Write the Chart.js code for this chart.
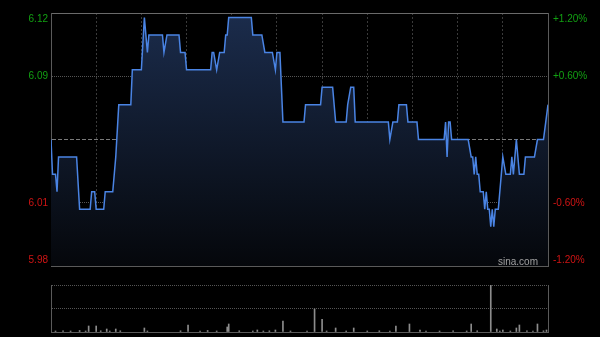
<!DOCTYPE html>
<html>
<head>
<meta charset="utf-8">
<script src="https://cdn.jsdelivr.net/npm/chart.js@4"></script>
<style>
  html, body { margin: 0; padding: 0; background: #000; }
  #wrap { position: relative; width: 600px; height: 337px; background: #000; overflow: hidden; }
  #priceChart { position: absolute; left: 0; top: 0; }
  #volChart { position: absolute; left: 0; top: 280px; }
</style>
</head>
<body>
<div id="wrap">
  <canvas id="priceChart" width="600" height="280"></canvas>
  <canvas id="volChart" width="600" height="57"></canvas>
</div>
<script>
// ============================================================
// 分时图数据
// ============================================================

// 昨收价与涨跌幅区间(%)
const prevClose = 6.05;
const rangePct = 1.2;
const totalMinutes = 330;

// 价格拐点：分钟序号 / 价格
const priceTimes = [
  0, 1, 3, 4, 5, 17, 19, 26, 27, 29, 30, 35, 36, 41, 43, 45, 53, 54, 60, 62,
  64, 65, 74, 75, 77, 85, 86, 89, 90, 106, 107, 108, 110, 112, 115, 116, 117, 118, 133, 134,
  140, 142, 147, 149, 150, 152, 154, 168, 169, 179, 180, 187, 189, 196, 197, 199, 201, 202, 224, 225,
  227, 230, 231, 236, 237, 243, 244, 261, 262, 263, 264, 265, 266, 277, 279, 280, 281, 282, 283, 284,
  285, 287, 288, 289, 290, 291, 292, 293, 294, 295, 297, 300, 302, 305, 306, 307, 309, 311, 314, 315,
  321, 323, 327, 330
];
const prices = [
  6.05, 6.03, 6.03, 6.02, 6.04, 6.04, 6.01, 6.01, 6.02, 6.02, 6.01, 6.01, 6.02, 6.02, 6.04, 6.07, 6.07, 6.09, 6.09, 6.12,
  6.10, 6.11, 6.11, 6.10, 6.11, 6.11, 6.10, 6.10, 6.09, 6.09, 6.10, 6.10, 6.09, 6.10, 6.10, 6.11, 6.11, 6.12, 6.12, 6.11,
  6.11, 6.10, 6.10, 6.09, 6.10, 6.10, 6.06, 6.06, 6.07, 6.07, 6.08, 6.08, 6.06, 6.06, 6.07, 6.08, 6.08, 6.06, 6.06, 6.05,
  6.06, 6.06, 6.07, 6.07, 6.06, 6.06, 6.05, 6.05, 6.06, 6.04, 6.06, 6.06, 6.05, 6.05, 6.04, 6.04, 6.03, 6.04, 6.03, 6.03,
  6.02, 6.02, 6.01, 6.02, 6.01, 6.01, 6.00, 6.01, 6.00, 6.01, 6.01, 6.04, 6.03, 6.03, 6.04, 6.03, 6.05, 6.03, 6.03, 6.04,
  6.04, 6.05, 6.05, 6.07
];

// 成交量：分钟序号 / 成交量(股)
const volTimes = [
  3, 8, 13, 19, 23, 25, 30, 33, 37, 39, 43, 46, 62, 64, 86, 91, 99, 104, 110, 117,
  118, 125, 134, 137, 141, 145, 149, 154, 159, 170, 175, 180, 183, 189, 196, 201, 210, 218, 225, 229,
  238, 245, 249, 258, 267, 276, 279, 283, 292, 296, 298, 300, 305, 309, 311, 316, 320, 323, 327, 329
];
const volumes = [
  10000, 12000, 10000, 15000, 10000, 60000, 60000, 12000, 30000, 10000, 30000, 12000, 40000, 10000, 12000, 70000, 10000, 15000, 10000, 50000,
  80000, 12000, 10000, 20000, 10000, 12000, 20000, 110000, 10000, 10000, 230000, 127000, 10000, 40000, 10000, 40000, 10000, 12000, 10000, 60000,
  80000, 20000, 10000, 10000, 12000, 10000, 80000, 12000, 470000, 30000, 10000, 20000, 10000, 40000, 70000, 12000, 10000, 80000, 12000, 20000
];
const volMax = 470000;

// 坐标轴标签
const leftLabels = ['5.98', '6.01', '', '6.09', '6.12'];
const rightLabels = ['-1.20%', '-0.60%', '', '+0.60%', '+1.20%'];
const halfHourTicks = [0, 30, 60, 90, 120, 150, 180, 210, 240, 270, 300, 330];

// 标签位置（首尾标签向内收）
const labelPct = [-1.143, -0.6, 0, 0.6, 1.143];

const FONT = "'Liberation Sans', Arial, sans-serif";
const UP = '#12a012';
const DOWN = '#d01414';

// ============================================================
// 价格图
// ============================================================

const watermark = {
  id: 'watermark',
  afterDraw(chart) {
    const ctx = chart.ctx;
    ctx.save();
    ctx.font = '10px ' + FONT;
    ctx.fillStyle = '#a0a0a0';
    ctx.textAlign = 'right';
    ctx.textBaseline = 'middle';
    ctx.fillText('sina.com', chart.chartArea.right - 10, chart.chartArea.bottom - 4);
    ctx.restore();
  }
};

const pricePoints = priceTimes.map((t, i) => ({ x: t, y: prices[i] }));

new Chart(document.getElementById('priceChart'), {
  type: 'line',
  data: {
    datasets: [{
      data: pricePoints,
      borderColor: '#4a84e4',
      borderWidth: 1.5,
      pointRadius: 0,
      tension: 0,
      fill: 'start',
      backgroundColor: (ctx) => {
        const area = ctx.chart.chartArea;
        if (!area) return 'rgba(0,0,0,0)';
        const g = ctx.chart.ctx.createLinearGradient(0, area.top, 0, area.bottom);
        g.addColorStop(0, '#1b2c4c');
        g.addColorStop(1, '#05070b');
        return g;
      },
    }],
  },
  options: {
    responsive: false,
    animation: false,
    layout: { padding: { top: 13, left: 0, right: 0, bottom: 0 } },
    plugins: { legend: { display: false }, tooltip: { enabled: false } },
    scales: {
      x: {
        type: 'linear',
        min: 0,
        max: totalMinutes,
        z: 1,
        afterBuildTicks: (scale) => { scale.ticks = halfHourTicks.map(v => ({ value: v })); },
        afterFit: (scale) => { scale.height = 14; },
        ticks: { display: false },
        grid: {
          drawTicks: false,
          color: (ctx) => (ctx.index === 0 || ctx.index === halfHourTicks.length - 1) ? 'rgba(0,0,0,0)' : '#3a3a3a',
        },
        border: { color: '#5a5a5a', dash: [2, 2] },
      },
      xTop: {
        type: 'linear',
        position: 'top',
        min: 0,
        max: totalMinutes,
        z: 1,
        afterFit: (scale) => { scale.height = 0; },
        ticks: { display: false },
        grid: { display: false, drawTicks: false },
        border: { color: '#6a6a6a' },
      },
      y: {
        position: 'left',
        min: prevClose * (1 - rangePct / 100),
        max: prevClose * (1 + rangePct / 100),
        z: 1,
        afterBuildTicks: (scale) => {
          scale.ticks = labelPct.map(p => ({ value: prevClose * (1 + p / 100) }));
        },
        afterFit: (scale) => { scale.width = 51; },
        ticks: {
          autoSkip: false,
          padding: 3,
          font: { size: 10, family: FONT },
          color: (ctx) => ctx.index > 2 ? UP : DOWN,
          callback: (v, i) => leftLabels[i],
        },
        grid: {
          drawTicks: false,
          color: (ctx) => {
            if (ctx.index === 0 || ctx.index === 4) return 'rgba(0,0,0,0)';
            return ctx.index === 2 ? '#7a7a7a' : '#555555';
          },
        },
        border: { color: '#5a5a5a', dash: (ctx) => ctx.index === 2 ? [4, 2] : [1, 1] },
      },
      yPct: {
        position: 'right',
        min: -rangePct,
        max: rangePct,
        z: 1,
        afterBuildTicks: (scale) => { scale.ticks = labelPct.map(p => ({ value: p })); },
        afterFit: (scale) => { scale.width = 52; },
        ticks: {
          autoSkip: false,
          padding: 5,
          font: { size: 10, family: FONT },
          color: (ctx) => ctx.index > 2 ? UP : DOWN,
          callback: (v, i) => rightLabels[i],
        },
        grid: { display: false, drawTicks: false },
        border: { color: '#5a5a5a' },
      },
    },
  },
  plugins: [watermark],
});

// ============================================================
// 成交量图
// ============================================================

const volPoints = volTimes.map((t, i) => ({ x: t, y: volumes[i] }));

new Chart(document.getElementById('volChart'), {
  type: 'bar',
  data: {
    datasets: [{
      data: volPoints,
      backgroundColor: '#8c8c8c',
      barThickness: 1,
    }],
  },
  options: {
    responsive: false,
    animation: false,
    layout: { padding: { top: 5, left: 0, right: 0, bottom: 0 } },
    plugins: { legend: { display: false }, tooltip: { enabled: false } },
    scales: {
      x: {
        type: 'linear',
        min: 0,
        max: totalMinutes,
        offset: false,
        afterFit: (scale) => { scale.height = 5; },
        ticks: { display: false },
        grid: { display: false, drawTicks: false },
        border: { color: '#5a5a5a' },
      },
      y: {
        position: 'left',
        min: 0,
        max: volMax,
        afterBuildTicks: (scale) => { scale.ticks = [0, volMax / 2, volMax].map(v => ({ value: v })); },
        afterFit: (scale) => { scale.width = 51; },
        ticks: { display: false },
        grid: {
          drawTicks: false,
          color: (ctx) => ctx.index === 0 ? 'rgba(0,0,0,0)' : '#555555',
        },
        border: { color: '#5a5a5a', dash: [1, 1] },
      },
      yRight: {
        position: 'right',
        min: 0,
        max: volMax,
        afterFit: (scale) => { scale.width = 52; },
        ticks: { display: false },
        grid: { display: false, drawTicks: false },
        border: { color: '#5a5a5a' },
      },
    },
  },
});
</script>
</body>
</html>
